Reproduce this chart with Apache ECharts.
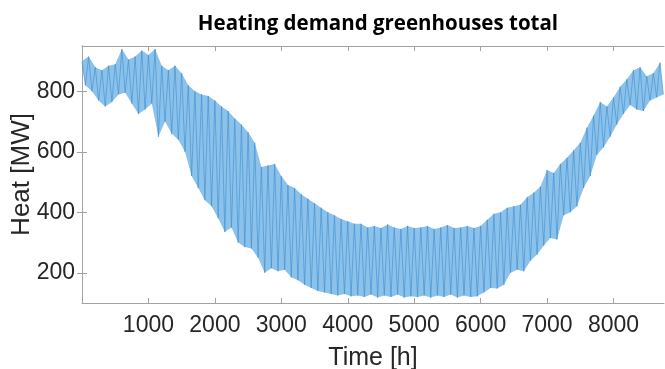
<!DOCTYPE html>
<html>
<head>
<meta charset="utf-8">
<script src="https://cdn.jsdelivr.net/npm/echarts@6/dist/echarts.min.js"></script>
<style>
  html, body { margin: 0; padding: 0; background: #fff; }
  #chart { width: 665px; height: 369px; }
</style>
</head>
<body>
<div id="chart"></div>
<script>
// daily peaks, read every 100 h starting at hour 0
const peakHeat = [
  900, 915, 880, 870, 885, 890, 940, 905, 915, 935,
  920, 940, 885, 870, 885, 860, 820, 800, 790, 785,
  770, 750, 735, 710, 690, 665, 630, 550, 555, 560,
  520, 490, 480, 460, 445, 430, 415, 400, 390, 378,
  370, 362, 362, 350, 355, 348, 360, 350, 345, 355,
  348, 350, 355, 345, 350, 358, 348, 350, 355, 348,
  355, 375, 395, 400, 415, 420, 425, 450, 465, 485,
  540, 530, 560, 580, 605, 630, 680, 720, 765, 750,
  780, 815, 840, 870, 880, 850, 860, 895
];
// troughs, read every 100 h starting at hour 50
const troughHeat = [
  820, 800, 770, 750, 765, 790, 795, 760, 725, 740,
  760, 650, 700, 660, 640, 600, 520, 480, 440, 420,
  380, 335, 350, 300, 285, 280, 250, 200, 215, 205,
  210, 185, 175, 160, 150, 140, 135, 130, 125, 130,
  122, 125, 120, 128, 118, 125, 120, 128, 118, 122,
  120, 125, 118, 125, 120, 128, 118, 125, 120, 122,
  135, 150, 148, 160, 200, 210, 205, 240, 260, 290,
  315, 310, 390, 400, 420, 480, 520, 590, 615, 650,
  690, 725, 755, 740, 735, 770, 780, 790
];
const peakHours = peakHeat.map((_, i) => i * 100);
const troughHours = troughHeat.map((_, i) => i * 100 + 50);

const xTicks = [1000, 2000, 3000, 4000, 5000, 6000, 7000, 8000];
const yTicks = [200, 400, 600, 800];

const zigzag = [];
peakHeat.forEach((v, i) => {
  zigzag.push([peakHours[i], v]);
  zigzag.push([troughHours[i], troughHeat[i]]);
});

const axisGray = "#a3a3a3";
const textDark = "#262626";
const labelFont = "Liberation Sans";
const plain = (v) => String(v);

const chart = echarts.init(document.getElementById("chart"));
chart.setOption({
  animation: false,
  title: {
    text: "Heating demand greenhouses total",
    left: 373,
    textAlign: "center",
    top: 9,
    textStyle: {
      fontFamily: "Open Sans",
      fontWeight: "bold",
      fontSize: 20.5,
      color: "#000",
    },
  },
  grid: { left: 82, right: 1, top: 46, bottom: 66, outerBoundsMode: "none" },
  xAxis: [
    {
      type: "value",
      min: 0,
      max: 8760,
      axisLine: { lineStyle: { color: axisGray } },
      axisTick: { inside: true, length: 5, customValues: xTicks, lineStyle: { color: axisGray } },
      axisLabel: { customValues: xTicks, formatter: plain, fontSize: 23, fontFamily: labelFont, color: textDark, margin: 11 },
      splitLine: { show: false },
      name: "Time [h]",
      nameLocation: "middle",
      nameGap: 43,
      nameMoveOverlap: false,
      nameTextStyle: { fontSize: 25, fontFamily: labelFont, color: textDark },
    },
    {
      type: "value",
      position: "top",
      min: 0,
      max: 8760,
      axisLine: { lineStyle: { color: axisGray } },
      axisTick: { inside: true, length: 5, customValues: xTicks, lineStyle: { color: axisGray } },
      axisLabel: { show: false },
      splitLine: { show: false },
    },
  ],
  yAxis: [
    {
      type: "value",
      min: 100,
      max: 950,
      axisLine: { show: true, lineStyle: { color: axisGray } },
      axisTick: { show: true, inside: true, length: 5, customValues: yTicks, lineStyle: { color: axisGray } },
      axisLabel: { customValues: yTicks, formatter: plain, fontSize: 23, fontFamily: labelFont, color: textDark, margin: 7 },
      splitLine: { show: false },
      name: "Heat [MW]",
      nameLocation: "middle",
      nameGap: 47,
      nameMoveOverlap: false,
      nameTextStyle: { fontSize: 26, fontFamily: labelFont, color: textDark },
    },
    {
      type: "value",
      position: "right",
      min: 100,
      max: 950,
      axisLine: { show: true, lineStyle: { color: axisGray } },
      axisTick: { show: true, inside: true, length: 5, customValues: yTicks, lineStyle: { color: axisGray } },
      axisLabel: { show: false },
      splitLine: { show: false },
    },
  ],
  series: [
    {
      // light band between the troughs and the peaks
      type: "custom",
      silent: true,
      clip: true,
      data: [[0, 0]],
      renderItem: (params, api) => {
        const pts = [];
        peakHeat.forEach((v, i) => pts.push(api.coord([peakHours[i], v])));
        for (let i = troughHeat.length - 1; i >= 0; i--) {
          pts.push(api.coord([troughHours[i], troughHeat[i]]));
        }
        return {
          type: "polygon",
          shape: { points: pts },
          style: { fill: "#8cc2ea", stroke: null },
        };
      },
    },
    {
      type: "line",
      data: zigzag,
      showSymbol: false,
      silent: true,
      lineStyle: { color: "#3a8dd2", width: 0.6 },
    },
  ],
});
</script>
</body>
</html>
